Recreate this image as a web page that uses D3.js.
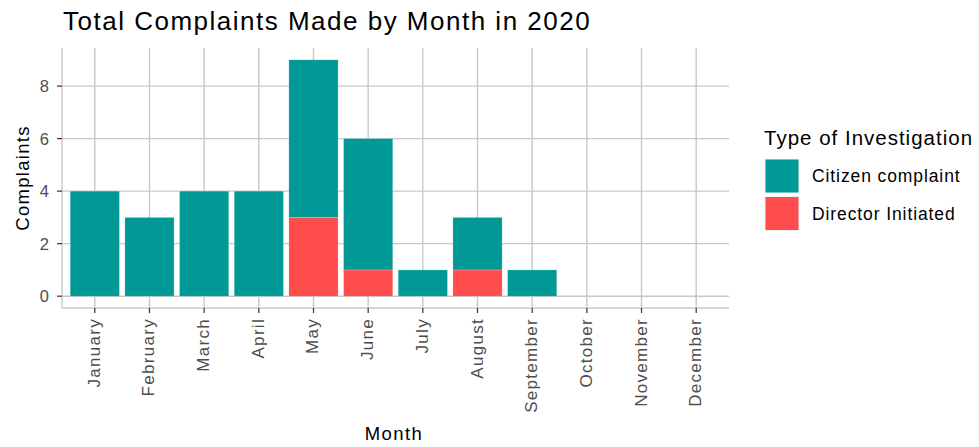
<!DOCTYPE html>
<html><head><meta charset="utf-8">
<script src="https://cdn.jsdelivr.net/npm/d3@7"></script>
<style>
body{margin:0;background:#fff;}
text{font-family:"Liberation Sans",Arial,sans-serif;}
</style></head>
<body><svg id="chart" width="979" height="447"></svg>
<script>
const months = ["January","February","March","April","May","June","July","August","September","October","November","December"];
const citizen = [4,3,4,4,6,5,1,2,1,0,0,0];
const director = [0,0,0,0,3,1,0,1,0,0,0,0];
const seriesNames = ["Citizen complaint","Director Initiated"];
const seriesColors = ["#009995","#FF4D4D"];
const yTicks = [0,2,4,6,8];

const svg = d3.select("#chart");
const L = 62, R = 729, T = 48, B = 308;

// ggplot-style discrete scale: 0.6 step expansion on each side, bars 0.9 of a step
const x = d3.scalePoint().domain(months).range([L, R]).padding(0.6);
const xc = m => x(m);
const bw = x.step() * 0.9;
const y = d3.scaleLinear().domain([-0.45, 9.45]).range([B, T]);

const grid = "#c8c8c8";
svg.append("g").selectAll("line").data(yTicks).join("line")
  .attr("x1", L).attr("x2", R).attr("y1", d => y(d)).attr("y2", d => y(d))
  .attr("stroke", grid).attr("stroke-width", 1.4);
svg.append("g").selectAll("line").data(months).join("line")
  .attr("x1", d => xc(d)).attr("x2", d => xc(d)).attr("y1", T).attr("y2", B)
  .attr("stroke", grid).attr("stroke-width", 1.4);
svg.append("line").attr("x1", L).attr("x2", L).attr("y1", T).attr("y2", B).attr("stroke", grid).attr("stroke-width", 1.4);
svg.append("line").attr("x1", L).attr("x2", R).attr("y1", B).attr("y2", B).attr("stroke", grid).attr("stroke-width", 1.4);

const rows = months.map((m, i) => ({month: m, "Director Initiated": director[i], "Citizen complaint": citizen[i]}));
const stack = d3.stack().keys(["Director Initiated","Citizen complaint"])(rows);
const color = d3.scaleOrdinal().domain(seriesNames).range(seriesColors);
svg.append("g").selectAll("g").data(stack).join("g")
  .attr("fill", d => color(d.key))
  .selectAll("rect").data(d => d.filter(p => p[1] > p[0])).join("rect")
  .attr("x", d => xc(d.data.month) - bw / 2).attr("width", bw)
  .attr("y", d => y(d[1])).attr("height", d => y(d[0]) - y(d[1]))
  .attr("stroke", "rgba(255,255,255,0.35)").attr("stroke-width", 0.6);

const yt = svg.append("g");
yt.selectAll("line").data(yTicks).join("line")
  .attr("x1", L - 5).attr("x2", L).attr("y1", d => y(d)).attr("y2", d => y(d))
  .attr("stroke", "#333").attr("stroke-width", 1.2);
yt.selectAll("text").data(yTicks).join("text")
  .attr("x", L - 13).attr("y", d => y(d)).attr("dy", "0.36em")
  .attr("text-anchor", "end").attr("fill", "#4d4d4d")
  .style("font-size", "16.5px").text(d => d);

const xt = svg.append("g");
xt.selectAll("line").data(months).join("line")
  .attr("x1", d => xc(d)).attr("x2", d => xc(d)).attr("y1", B).attr("y2", B + 5)
  .attr("stroke", "#333").attr("stroke-width", 1.2);
xt.selectAll("text").data(months).join("text")
  .attr("transform", d => `translate(${xc(d) + 5},${B + 10}) rotate(-90)`)
  .attr("text-anchor", "end").attr("fill", "#4d4d4d")
  .style("font-size", "17px").style("letter-spacing", "1.3px").text(d => d);

svg.append("text").attr("x", 63).attr("y", 30).attr("fill", "#000")
  .style("font-size", "26px").style("letter-spacing", "1.5px").text("Total Complaints Made by Month in 2020");
svg.append("text").attr("x", 394).attr("y", 440).attr("text-anchor", "middle").attr("fill", "#000")
  .style("font-size", "18.5px").style("letter-spacing", "1.4px").text("Month");
svg.append("text").attr("transform", `translate(29,${(T + B) / 2}) rotate(-90)`).attr("text-anchor", "middle").attr("fill", "#000")
  .style("font-size", "18.5px").style("letter-spacing", "1.3px").text("Complaints");

const lg = svg.append("g");
lg.append("text").attr("x", 764).attr("y", 145).attr("fill", "#000")
  .style("font-size", "20.5px").style("letter-spacing", "1.0px").text("Type of Investigation");
const items = lg.selectAll("g.item").data(seriesNames).join("g").attr("class", "item")
  .attr("transform", (d, i) => `translate(765,${159 + i * 37.5})`);
items.append("rect").attr("width", 34).attr("height", 34).attr("fill", d => color(d))
  .attr("stroke", "#f2f2f2").attr("stroke-width", 1);
items.append("text").attr("x", 47).attr("y", 17).attr("dy", "0.36em").attr("fill", "#000")
  .style("font-size", "17.5px").style("letter-spacing", "0.9px").text(d => d);
</script></body></html>
